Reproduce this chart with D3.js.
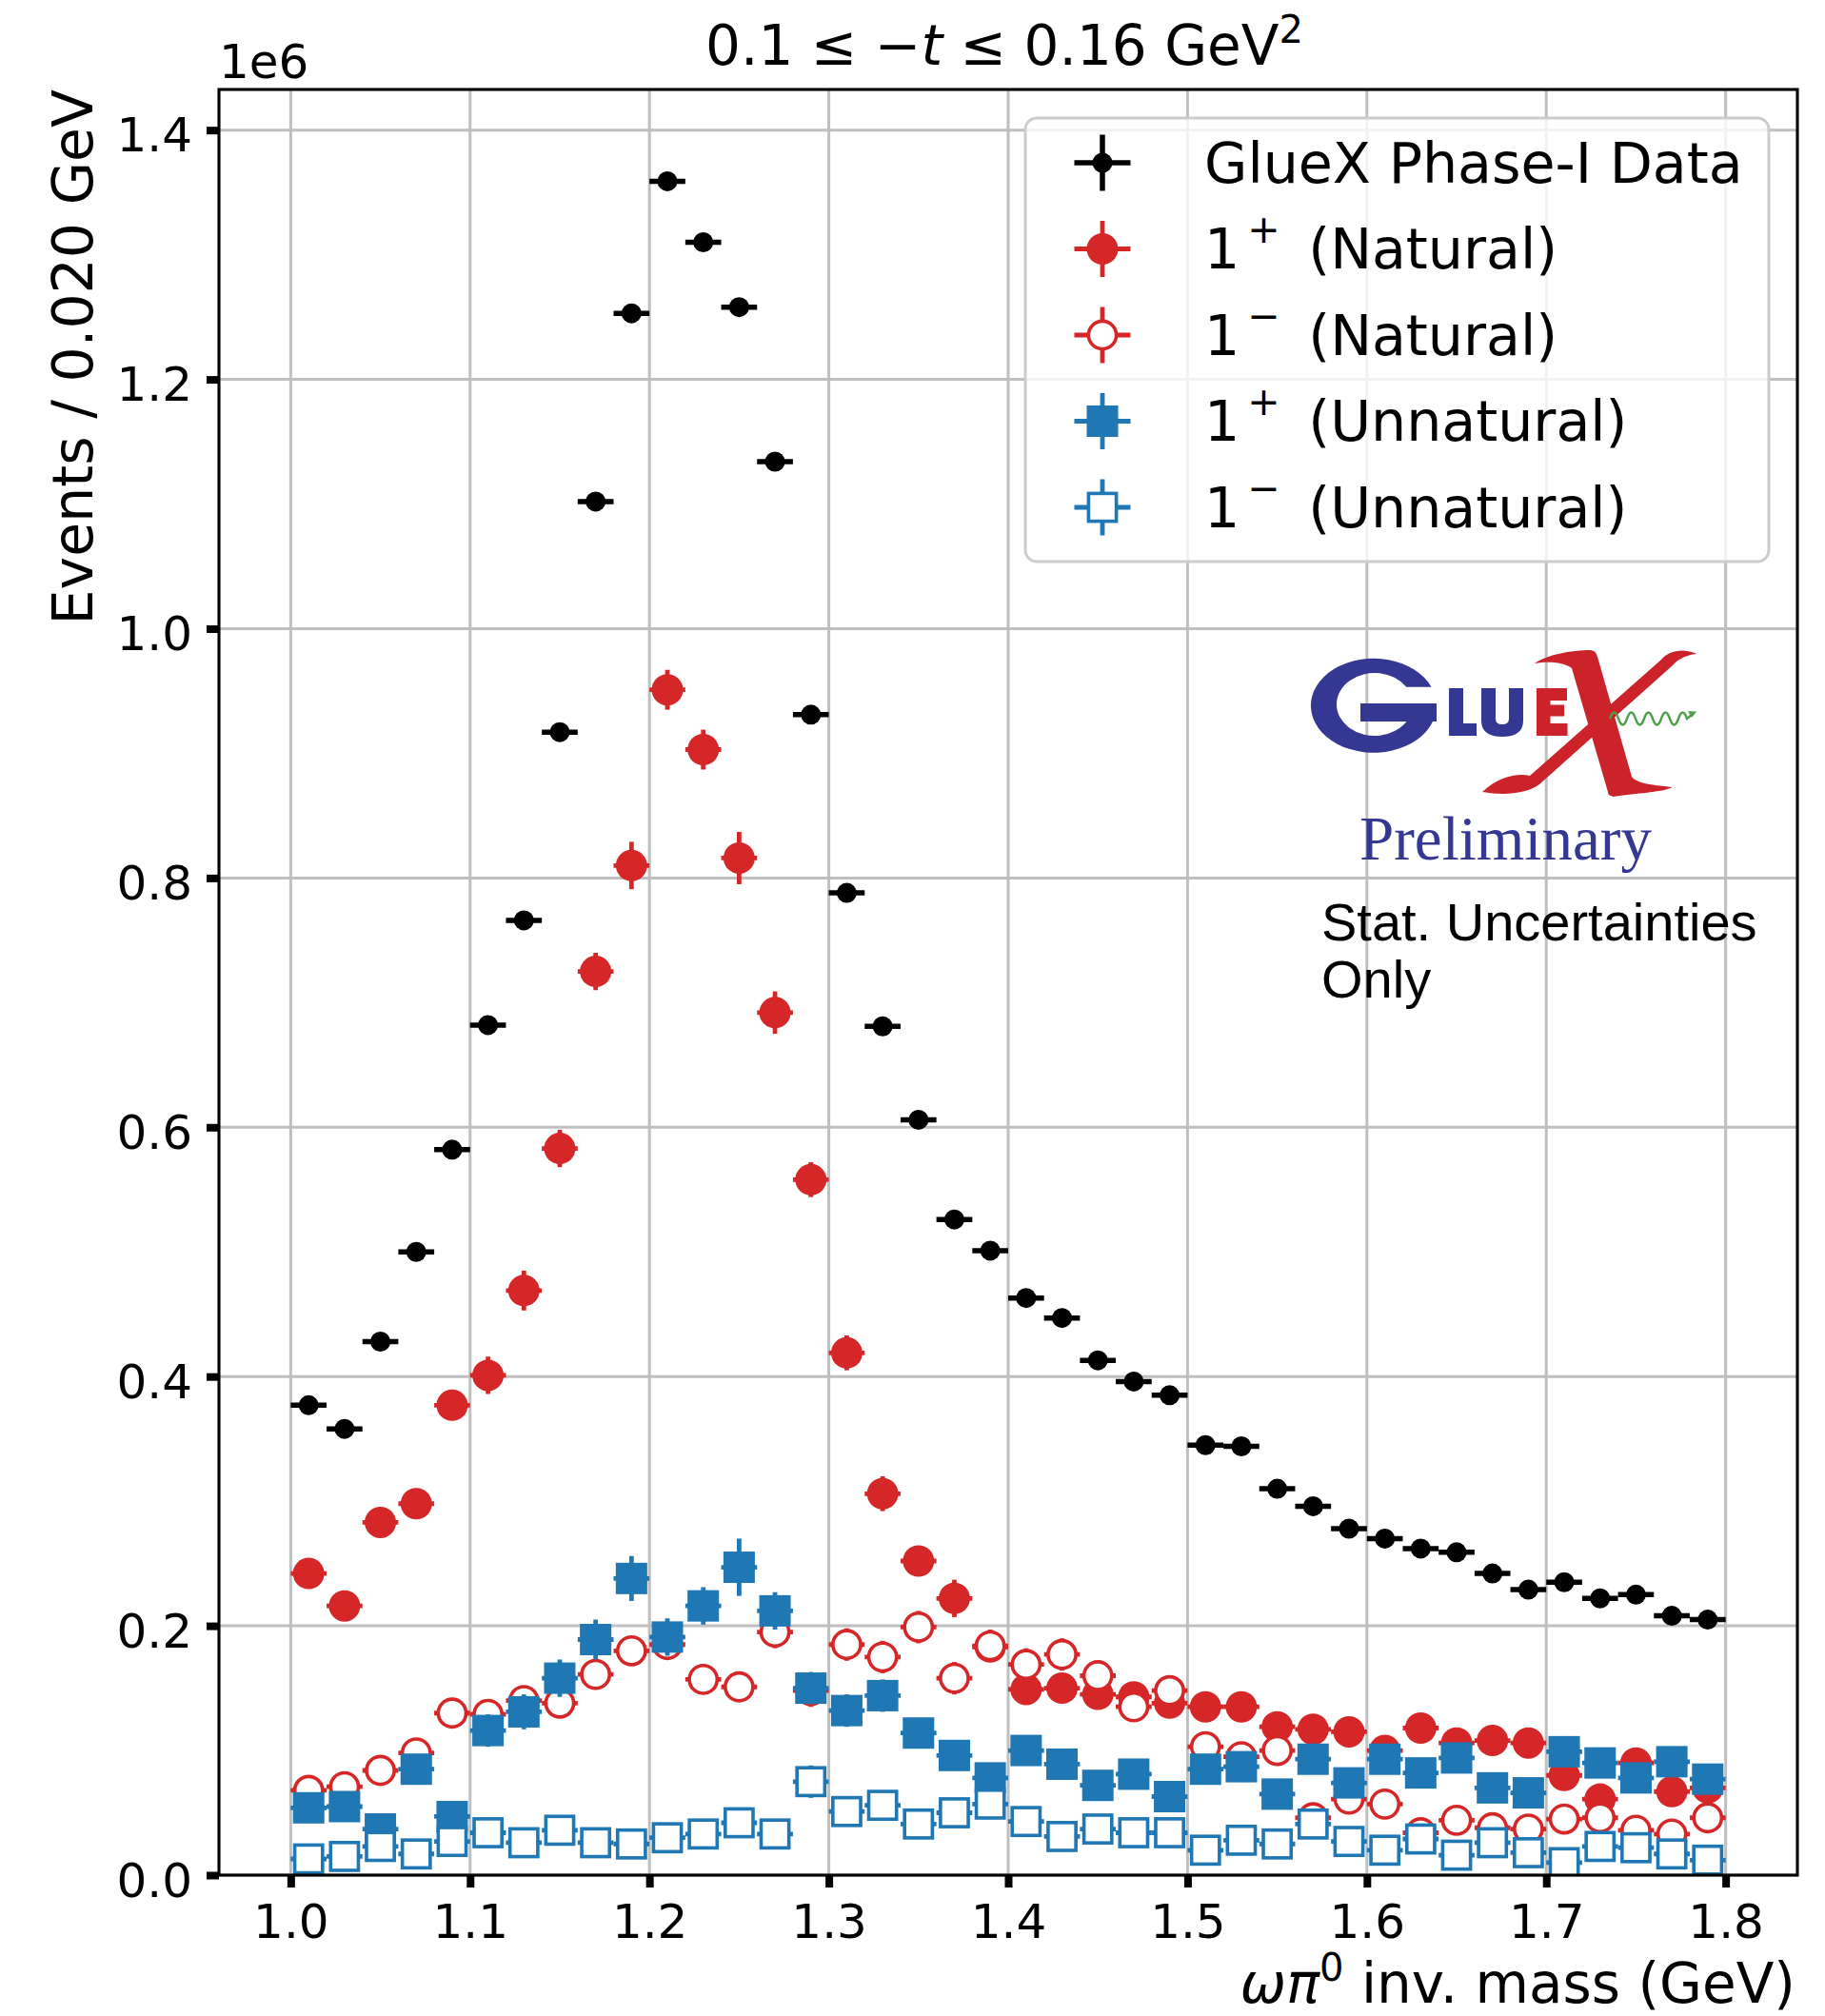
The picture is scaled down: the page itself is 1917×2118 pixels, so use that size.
<!DOCTYPE html>
<html>
<head>
<meta charset="utf-8">
<script src="https://cdn.jsdelivr.net/npm/d3@7"></script>
<style>
  html, body { margin: 0; padding: 0; background: #fff; }
  svg { display: block; }
  text { white-space: pre; }
</style>
</head>
<body>
<svg id="chart" width="1917" height="2118"></svg>
<script>
// ω π0 invariant-mass bins (bin centres, GeV); each bin is 0.020 GeV wide
const massBins = [1.01, 1.03, 1.05, 1.07, 1.09, 1.11, 1.13, 1.15, 1.17, 1.19,
                  1.21, 1.23, 1.25, 1.27, 1.29, 1.31, 1.33, 1.35, 1.37, 1.39,
                  1.41, 1.43, 1.45, 1.47, 1.49, 1.51, 1.53, 1.55, 1.57, 1.59,
                  1.61, 1.63, 1.65, 1.67, 1.69, 1.71, 1.73, 1.75, 1.77, 1.79];
const halfBin = 0.01;

// GlueX Phase-I data
const dataCounts = [377000, 358000, 428000, 500000, 582000, 682000, 766000, 917000, 1102000, 1253000,
                    1359000, 1310000, 1258000, 1134000, 931000, 788000, 681000, 606000, 526000, 501000,
                    463000, 447000, 413000, 396000, 385000, 345000, 344000, 310000, 296000, 278000,
                    270000, 262000, 259000, 242000, 229000, 235000, 222000, 225000, 208000, 205000];
const dataErr = [2500, 2400, 2700, 2900, 3100, 3400, 3600, 3900, 4300, 4600,
                 4800, 4700, 4600, 4400, 4000, 3700, 3400, 3200, 3000, 2900,
                 2800, 2700, 2600, 2600, 2500, 2400, 2400, 2300, 2300, 2200,
                 2200, 2100, 2100, 2000, 2000, 2000, 1900, 1900, 1900, 1800];

// 1+ natural-parity exchange
const natPlus = [242000, 216000, 283000, 298000, 377000, 401000, 469000, 583000, 725000, 810000,
                 951000, 903000, 816000, 692000, 558000, 419000, 306000, 252000, 222000, 183000,
                 149000, 150000, 145000, 143000, 138000, 135000, 135000, 119000, 117000, 115000,
                 100000, 118000, 106000, 108000, 106000, 80000, 61000, 90000, 67000, 70000];
const natPlusErr = [10000, 10000, 11000, 11000, 12000, 15000, 16000, 15000, 15000, 19000,
                    16000, 16000, 21000, 17000, 14000, 14000, 14000, 11000, 15000, 11000,
                    9000, 9000, 9000, 9000, 9000, 9000, 9000, 8000, 8000, 8000,
                    8000, 8000, 8000, 8000, 8000, 8000, 7000, 7000, 7000, 7000];

// 1- natural-parity exchange
const natMinus = [68000, 71000, 84000, 98000, 130000, 129000, 140000, 138000, 161000, 180000,
                  185000, 157000, 151000, 195000, 148000, 185000, 175000, 199000, 158000, 184000,
                  169000, 177000, 160000, 135000, 148000, 103000, 95000, 100000, 46000, 61000,
                  57000, 34000, 44000, 38000, 37000, 45000, 46000, 36000, 33000, 46000];
const natMinusErr = [9000, 9000, 9000, 10000, 10000, 10000, 11000, 11000, 11000, 11000,
                     12000, 12000, 12000, 13000, 13000, 13000, 13000, 13000, 13000, 13000,
                     13000, 13000, 12000, 12000, 12000, 11000, 11000, 11000, 10000, 10000,
                     10000, 9000, 9000, 9000, 9000, 9000, 9000, 9000, 9000, 9000];

// 1+ unnatural-parity exchange
const unnatPlus = [54000, 55000, 37000, 85000, 47000, 116000, 131000, 158000, 189000, 238000,
                   191000, 216000, 247000, 212000, 150000, 132000, 144000, 114000, 96000, 78000,
                   100000, 89000, 72000, 81000, 63000, 85000, 87000, 65000, 93000, 74000,
                   93000, 82000, 94000, 70000, 66000, 99000, 90000, 78000, 91000, 77000];
const unnatPlusErr = [9000, 9000, 9000, 10000, 10000, 13000, 14000, 15000, 16000, 18000,
                      15000, 15000, 23000, 15000, 13000, 13000, 13000, 11000, 10000, 10000,
                      10000, 9000, 9000, 9000, 9000, 9000, 9000, 9000, 9000, 9000,
                      9000, 9000, 9000, 9000, 9000, 9000, 9000, 9000, 9000, 9000];

// 1- unnatural-parity exchange
const unnatMinus = [13000, 15000, 23000, 17000, 27000, 34000, 26000, 36000, 26000, 25000,
                    30000, 33000, 42000, 33000, 75000, 51000, 56000, 41000, 50000, 57000,
                    43000, 31000, 37000, 34000, 34000, 20000, 28000, 25000, 41000, 27000,
                    20000, 29000, 16000, 26000, 18000, 10000, 23000, 22000, 17000, 12000];
const unnatMinusErr = [7000, 7000, 7000, 7000, 8000, 8000, 8000, 8000, 8000, 8000,
                       8000, 9000, 9000, 9000, 13000, 10000, 10000, 9000, 9000, 10000,
                       9000, 8000, 8000, 8000, 8000, 8000, 8000, 8000, 8000, 8000,
                       8000, 8000, 8000, 8000, 8000, 8000, 7000, 7000, 7000, 7000];

// axis ticks
const xTicks = [1.0, 1.1, 1.2, 1.3, 1.4, 1.5, 1.6, 1.7, 1.8];
const yTicks = [0, 200000, 400000, 600000, 800000, 1000000, 1200000, 1400000];

// legend labels: [base, superscript, suffix]
const legendLabels = [
  ["GlueX Phase-I Data", null, null],
  ["1", "+", " (Natural)"],
  ["1", "\u2212", " (Natural)"],
  ["1", "+", " (Unnatural)"],
  ["1", "\u2212", " (Unnatural)"]
];

// ---------------------------------------------------------------------------
const FONT = "'DejaVu Sans', sans-serif";
const RED = "#d62728", BLUE = "#1f77b4";
const M = { left: 230, right: 1888, top: 94, bottom: 1970 };

const svg = d3.select("#chart");
const x = d3.scaleLinear().domain([0.96, 1.84]).range([M.left, M.right]);
const y = d3.scaleLinear().domain([0, 1432600]).range([M.bottom, M.top]);

svg.append("rect").attr("width", 1917).attr("height", 2118).attr("fill", "#fff");

svg.append("defs").append("clipPath").attr("id", "plotClip")
  .append("rect")
  .attr("x", M.left).attr("y", M.top)
  .attr("width", M.right - M.left).attr("height", M.bottom - M.top);

// grid
const gridG = svg.append("g").attr("stroke", "#bfbfbf").attr("stroke-width", 3);
gridG.selectAll("line.gx").data(xTicks).join("line").attr("class", "gx")
  .attr("x1", d => x(d)).attr("x2", d => x(d))
  .attr("y1", M.top).attr("y2", M.bottom);
gridG.selectAll("line.gy").data(yTicks).join("line").attr("class", "gy")
  .attr("x1", M.left).attr("x2", M.right)
  .attr("y1", d => y(d)).attr("y2", d => y(d));

// series definitions
const series = [
  { values: dataCounts, errors: dataErr, color: "#000", shape: "circle", r: 10.5, open: false, ew: 5.5 },
  { values: natPlus, errors: natPlusErr, color: RED, shape: "circle", r: 16.5, open: false, ew: 4.8 },
  { values: natMinus, errors: natMinusErr, color: RED, shape: "circle", r: 14.6, open: true, ew: 4.8 },
  { values: unnatPlus, errors: unnatPlusErr, color: BLUE, shape: "square", r: 16.5, open: false, ew: 4.8 },
  { values: unnatMinus, errors: unnatMinusErr, color: BLUE, shape: "square", r: 14.6, open: true, ew: 4.8 }
];

function styleMarker(sel, s) {
  if (s.open) {
    sel.attr("fill", "#fff").attr("stroke", s.color).attr("stroke-width", 3.6);
  } else {
    sel.attr("fill", s.color).attr("stroke", "none");
  }
  return sel;
}

// data points with error bars
const dataG = svg.append("g").attr("clip-path", "url(#plotClip)");
series.forEach(s => {
  const pts = massBins.map((m, i) => ({ m: m, v: s.values[i], e: s.errors[i] }));
  const g = dataG.append("g");
  g.selectAll("line.xe").data(pts).join("line").attr("class", "xe")
    .attr("x1", d => x(d.m - halfBin)).attr("x2", d => x(d.m + halfBin))
    .attr("y1", d => y(d.v)).attr("y2", d => y(d.v))
    .attr("stroke", s.color).attr("stroke-width", s.ew);
  g.selectAll("line.ye").data(pts).join("line").attr("class", "ye")
    .attr("x1", d => x(d.m)).attr("x2", d => x(d.m))
    .attr("y1", d => y(d.v - d.e)).attr("y2", d => y(d.v + d.e))
    .attr("stroke", s.color).attr("stroke-width", s.ew);
  if (s.shape === "circle") {
    styleMarker(g.selectAll("circle").data(pts).join("circle")
      .attr("cx", d => x(d.m)).attr("cy", d => y(d.v)).attr("r", s.r), s);
  } else {
    styleMarker(g.selectAll("rect").data(pts).join("rect")
      .attr("x", d => x(d.m) - s.r).attr("y", d => y(d.v) - s.r)
      .attr("width", 2 * s.r).attr("height", 2 * s.r), s);
  }
});

// axes
const xAxis = svg.append("g").attr("transform", `translate(0,${M.bottom})`)
  .call(d3.axisBottom(x).tickValues(xTicks).tickFormat(d => d.toFixed(1))
    .tickSize(13).tickPadding(17));
const yAxis = svg.append("g").attr("transform", `translate(${M.left},0)`)
  .call(d3.axisLeft(y).tickValues(yTicks).tickFormat(d => (d / 1e6).toFixed(1))
    .tickSize(13).tickPadding(15));
[xAxis, yAxis].forEach(a => {
  a.select(".domain").remove();
  a.selectAll(".tick line").attr("stroke", "#000").attr("stroke-width", 8);
  a.selectAll(".tick text").attr("font-family", FONT).attr("font-size", 50).attr("fill", "#000");
});
yAxis.selectAll(".tick text").attr("dy", "0.44em");

// frame
svg.append("rect")
  .attr("x", M.left).attr("y", M.top)
  .attr("width", M.right - M.left).attr("height", M.bottom - M.top)
  .attr("fill", "none").attr("stroke", "#000").attr("stroke-width", 3.1);

// rich text helper
function richText(parent, px, py, runs, size, anchor) {
  const t = parent.append("text")
    .attr("x", px).attr("y", py)
    .attr("font-family", FONT).attr("font-size", size)
    .attr("text-anchor", anchor || "start").attr("fill", "#000");
  runs.forEach(r => {
    const ts = t.append("tspan").text(r.t);
    if (r.italic) ts.attr("font-style", "italic");
    if (r.size) ts.attr("font-size", r.size);
    if (r.dx) ts.attr("dx", r.dx);
    if (r.dy) ts.attr("dy", r.dy);
  });
  return t;
}

// title
richText(svg, 1055, 68, [
  { t: "0.1 \u2264 \u2212" }, { t: "t", italic: true }, { t: " \u2264 0.16 GeV" },
  { t: "2", size: 40, dy: -23 }
], 58, "middle");

// offset text
svg.append("text").attr("x", 230).attr("y", 82)
  .attr("font-family", FONT).attr("font-size", 50).text("1e6");

// axis labels
svg.append("text")
  .attr("transform", "translate(97,94) rotate(-90)")
  .attr("text-anchor", "end")
  .attr("font-family", FONT).attr("font-size", 58.5)
  .text("Events / 0.020 GeV");

richText(svg, 1886, 2104, [
  { t: "\u03c9", italic: true }, { t: "\u03c0", italic: true },
  { t: "0", size: 40, dy: -23 }, { t: " inv. mass (GeV)", dy: 23 }
], 58, "end");

// legend
const legG = svg.append("g");
legG.append("rect")
  .attr("x", 1077).attr("y", 124).attr("width", 781).attr("height", 466)
  .attr("rx", 12).attr("ry", 12)
  .attr("fill", "#fff").attr("fill-opacity", 0.8)
  .attr("stroke", "#cccccc").attr("stroke-width", 3);

const legCenters = [171, 261.5, 352, 442.5, 533];
const hx = 1158, hl = 29.5;
series.forEach((s, i) => {
  const cy = legCenters[i];
  const g = legG.append("g");
  g.append("line").attr("x1", hx - hl).attr("x2", hx + hl).attr("y1", cy).attr("y2", cy)
    .attr("stroke", s.color).attr("stroke-width", s.ew);
  g.append("line").attr("x1", hx).attr("x2", hx).attr("y1", cy - hl).attr("y2", cy + hl)
    .attr("stroke", s.color).attr("stroke-width", s.ew);
  if (s.shape === "circle") {
    styleMarker(g.append("circle").attr("cx", hx).attr("cy", cy).attr("r", s.r), s);
  } else {
    styleMarker(g.append("rect").attr("x", hx - s.r).attr("y", cy - s.r)
      .attr("width", 2 * s.r).attr("height", 2 * s.r), s);
  }
  const lab = legendLabels[i];
  const runs = [{ t: lab[0] }];
  if (lab[1]) {
    runs.push({ t: lab[1], size: 41, dx: 8, dy: -27 });
    runs.push({ t: lab[2], dx: 11, dy: 27 });
  }
  richText(legG, 1265, cy + 20.5, runs, 58.6, "start");
});

// GlueX logo
const logo = svg.append("g");
const LBLUE = "#343892", LRED = "#cc2229";
logo.append("path").attr("fill", LBLUE).attr("d",
  "M1503.5,721.7 A66,49.5 0 1 0 1505,758 L1509,758 L1509,739 L1429,739 L1429,758 " +
  "L1477.5,758 A40,33 0 1 1 1477.3,721.7 Z");
logo.append("path").attr("fill", LBLUE).attr("d",
  "M1522,723 H1537 V760 H1551 V773 H1522 Z");
logo.append("path").attr("fill", LBLUE).attr("d",
  "M1556,723 H1571 V755 Q1571,761 1578,761 Q1585,761 1585,755 V723 H1600 V757 " +
  "Q1600,774 1578,774 Q1556,774 1556,757 Z");
logo.append("path").attr("fill", LRED).attr("d",
  "M1614,723 H1646 V736 H1628.5 V740.5 H1643 V752.5 H1628.5 V760 H1646.5 V773 H1614 Z");
// X: heavy stroke
logo.append("path").attr("fill", LRED).attr("d",
  "M1612,697 C1625,688 1650,683 1671,683 C1676,684 1677,687 1678,690 L1714,816 " +
  "C1720,824 1740,825 1757,827 C1745,833 1710,834 1695,837 C1690,836 1689,834 1689,832 " +
  "L1651,702 C1645,697 1630,694 1612,697 Z");
// X: light stroke
logo.append("path").attr("fill", LRED).attr("d",
  "M1557,832 C1575,815 1595,812 1607,815 L1745,693 C1752,684 1768,680 1782,687 " +
  "C1772,688 1763,692 1757,699 L1617,824 C1603,834 1580,836 1557,832 Z");
// photon line
logo.append("path").attr("fill", "none").attr("stroke", "#4f9f47").attr("stroke-width", 2.4)
  .attr("d", "M1691,755 q4.5,-13 9,0 t9,0 t9,0 t9,0 t9,0 t9,0 t9,0 t9,0 t9,0 l5,-4");
logo.append("path").attr("fill", "#4f9f47")
  .attr("d", "M1782,747.5 L1773,747 L1777,754 Z");

svg.append("text").attr("x", 1428).attr("y", 903)
  .attr("font-family", "'Liberation Serif', serif").attr("font-size", 65)
  .attr("fill", LBLUE).text("Preliminary");

svg.append("text").attr("x", 1388).attr("y", 988)
  .attr("font-family", "'Liberation Sans', Arial, sans-serif").attr("font-size", 56)
  .attr("fill", "#000").text("Stat. Uncertainties");
svg.append("text").attr("x", 1388).attr("y", 1048)
  .attr("font-family", "'Liberation Sans', Arial, sans-serif").attr("font-size", 56)
  .attr("fill", "#000").text("Only");
</script>
</body>
</html>
